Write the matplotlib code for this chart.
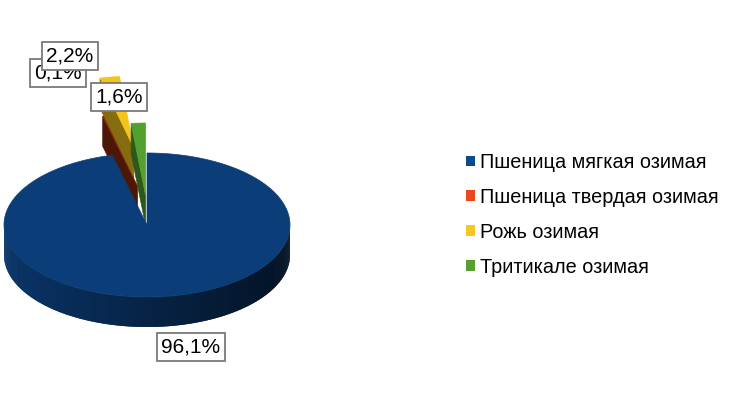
import numpy as np
import matplotlib.pyplot as plt
from matplotlib.patches import Polygon, Patch
import matplotlib.colors as mcolors

plt.rcParams['font.family'] = ['Liberation Sans', 'DejaVu Sans']

# Данные
crops = ['Пшеница мягкая озимая', 'Пшеница твердая озимая', 'Рожь озимая', 'Тритикале озимая']
shares = [96.1, 0.1, 2.2, 1.6]
share_labels = ['96,1%', '0,1%', '2,2%', '1,6%']

# Оформление
top_colors = ['#0b3d79', '#8a2a0c', '#f2c41c', '#52a02e']
legend_colors = ['#0b4a8c', '#e8481c', '#f6c81e', '#5a9e32']
explode = [0, 40, 78, 30]
label_pos = [(191, 64), (58, 338), (70, 355), (119, 314)]

W, H = 730, 411
cx, cy = 147, 186      # центр верхней грани
rx, ry = 143, 72       # полуоси эллипса
depth = 30             # толщина "пирога"

fig = plt.figure(figsize=(W / 100, H / 100), dpi=100)
ax = fig.add_axes([0, 0, 1, 1])
ax.set_xlim(0, W)
ax.set_ylim(0, H)
ax.axis('off')

# углы секторов: от 12 часов по часовой стрелке
ends = 90 - np.cumsum([0] + shares[:-1]) * 3.6
starts = ends - np.array(shares) * 3.6


def shade(color, k):
    r, g, b = mcolors.to_rgb(color)
    return (r * k, g * k, b * k)


def pt(ox, oy, a, dz=0):
    return ox + rx * np.cos(np.radians(a)), oy + ry * np.sin(np.radians(a)) - dz


def draw_slice(i):
    a1, a2 = starts[i], ends[i]
    mid = (a1 + a2) / 2
    ox = cx + explode[i] * np.cos(np.radians(mid))
    oy = cy + explode[i] * np.sin(np.radians(mid))
    col = top_colors[i]
    # радиальные грани
    for a, vis in ((a1, np.cos(np.radians(a1)) > 0.02), (a2, np.cos(np.radians(a2)) < -0.02)):
        if vis:
            p = pt(ox, oy, a)
            q = pt(ox, oy, a, depth)
            ax.add_patch(Polygon([(ox, oy), p, q, (ox, oy - depth)], closed=True,
                                 fc=shade(col, 0.55), ec=shade(col, 0.55), lw=0.5))
    # боковая стенка (только передняя часть дуги)
    angs = np.linspace(a1, a2, max(int((a2 - a1) / 0.5), 2))
    for u, v in zip(angs[:-1], angs[1:]):
        m = (u + v) / 2
        if np.sin(np.radians(m)) < 0:
            t = (np.cos(np.radians(m)) + 1) / 2
            c = shade(col, 0.85 - 0.55 * t)
            w = min(v + 0.6, a2)
            ax.add_patch(Polygon([pt(ox, oy, u), pt(ox, oy, w), pt(ox, oy, w, depth), pt(ox, oy, u, depth)],
                                 closed=True, fc=c, lw=0))
    # верхняя грань
    top = [(ox, oy)] + [pt(ox, oy, a) for a in angs]
    ax.add_patch(Polygon(top, closed=True, fc=col, ec=col, lw=0.5))


for i in [2, 1, 3, 0]:
    draw_slice(i)

# подписи долей
for i in [1, 2, 3, 0]:
    ax.text(label_pos[i][0], label_pos[i][1], share_labels[i], fontsize=15, ha='center', va='center',
            bbox=dict(boxstyle='square,pad=0.2', fc='white', ec='#7a7a7a', lw=1.3), zorder=5)

# легенда
handles = [Patch(fc=c, ec='none') for c in legend_colors]
ax.legend(handles, crops, loc='upper left', bbox_to_anchor=(466, 258), bbox_transform=ax.transData,
          frameon=False, fontsize=14.3, handlelength=0.45, handleheight=0.45, handletextpad=0.25,
          labelspacing=0.8, borderpad=0, borderaxespad=0)

fig.savefig('out.png', dpi=100)
